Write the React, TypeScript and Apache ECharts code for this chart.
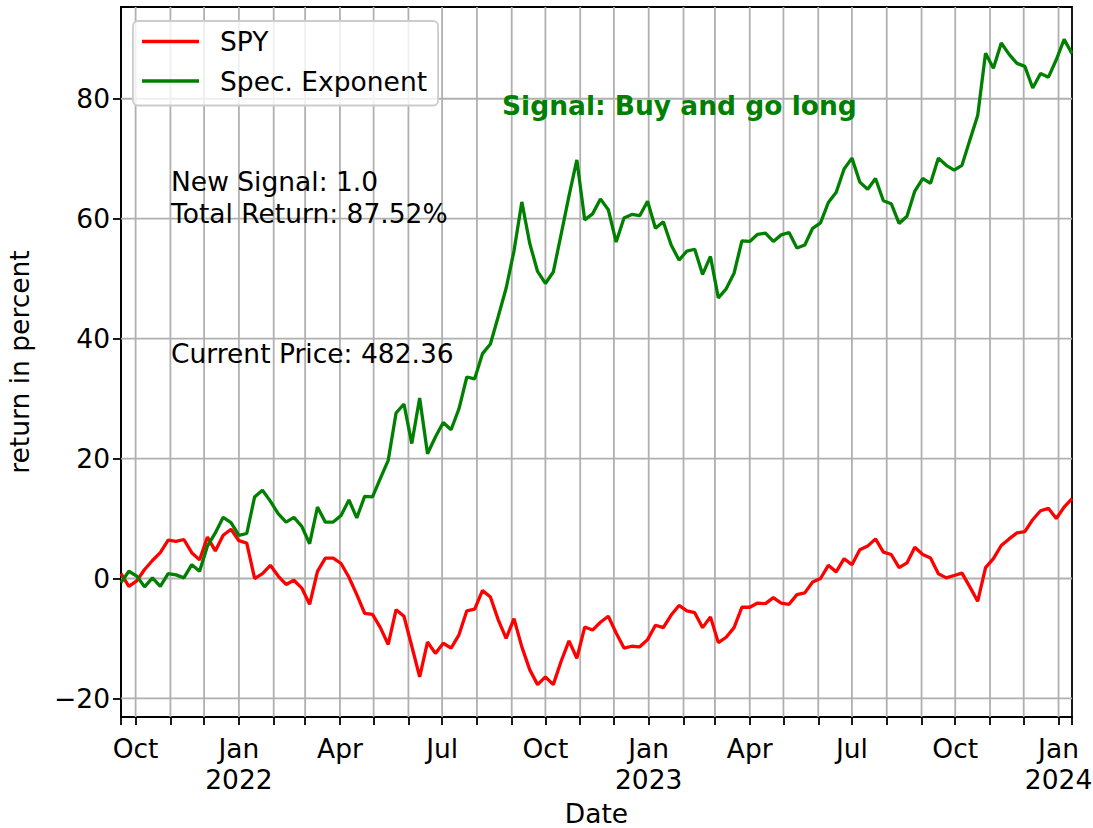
import React, { useEffect, useRef } from 'react';
import * as echarts from 'echarts';

// ---------- data ----------
const START_DATE = '2021-09-18'; // weekly samples
const spy = [
  0.8, -1.3, -0.4, 1.5, 3.0, 4.3, 6.4, 6.2, 6.5, 4.3,
  3.1, 6.9, 4.6, 7.2, 8.2, 6.3, 5.9, 0.0, 0.8, 2.2,
  0.4, -1.0, -0.3, -1.6, -4.3, 1.2, 3.4, 3.4, 2.5, 0.2,
  -2.7, -5.8, -6.0, -8.2, -11.0, -5.2, -6.3, -11.3, -16.4, -10.6,
  -12.5, -10.8, -11.6, -9.4, -5.4, -5.1, -2.0, -3.1, -6.9, -10.0,
  -6.7, -11.4, -15.2, -17.7, -16.4, -17.7, -13.8, -10.4, -13.3, -8.1,
  -8.6, -7.3, -6.3, -9.1, -11.6, -11.3, -11.4, -10.2, -7.8, -8.2,
  -6.1, -4.5, -5.4, -5.7, -8.2, -6.4, -10.7, -9.8, -8.2, -4.8,
  -4.8, -4.1, -4.2, -3.2, -4.1, -4.3, -2.7, -2.4, -0.6, 0.0,
  2.2, 1.1, 3.3, 2.3, 4.8, 5.4, 6.6, 4.4, 4.0, 1.8,
  2.6, 5.2, 4.0, 3.4, 0.8, 0.1, 0.5, 0.9, -1.4, -3.8,
  1.8, 3.3, 5.5, 6.6, 7.6, 7.8, 9.8, 11.3, 11.7, 10.0,
  11.9, 13.3,
];
const specExponent = [
  -0.7, 1.2, 0.4, -1.4, 0.1, -1.3, 0.8, 0.6, 0.1, 2.3,
  1.2, 5.4, 7.6, 10.2, 9.3, 7.2, 7.5, 13.6, 14.7, 12.9,
  10.8, 9.4, 10.2, 8.7, 5.8, 11.9, 9.4, 9.4, 10.5, 13.1,
  10.1, 13.7, 13.6, 16.7, 19.7, 27.6, 29.1, 22.5, 30.1, 20.8,
  23.6, 26.0, 24.8, 28.3, 33.6, 33.3, 37.5, 39.1, 43.7, 48.4,
  54.6, 62.8, 55.9, 51.2, 49.2, 51.1, 57.4, 63.8, 69.8, 59.8,
  60.8, 63.3, 61.5, 56.1, 60.1, 60.7, 60.5, 62.9, 58.4, 59.5,
  55.6, 53.1, 54.6, 54.9, 50.7, 53.7, 46.8, 48.3, 50.9, 56.3,
  56.2, 57.4, 57.6, 56.2, 57.3, 57.7, 55.1, 55.6, 58.4, 59.3,
  62.7, 64.4, 68.3, 70.1, 66.1, 64.9, 66.7, 63.0, 62.5, 59.2,
  60.4, 64.6, 66.7, 65.9, 70.1, 68.9, 68.1, 68.9, 73.1, 77.2,
  87.6, 85.1, 89.3, 87.4, 85.9, 85.4, 81.8, 84.2, 83.6, 86.5,
  89.9, 87.52,
];
const yTickValues = [-20, 0, 20, 40, 60, 80];
const monthTicks = [
  '2021-10-01', '2021-11-01', '2021-12-01',
  '2022-01-01', '2022-02-01', '2022-03-01', '2022-04-01', '2022-05-01', '2022-06-01',
  '2022-07-01', '2022-08-01', '2022-09-01', '2022-10-01', '2022-11-01', '2022-12-01',
  '2023-01-01', '2023-02-01', '2023-03-01', '2023-04-01', '2023-05-01', '2023-06-01',
  '2023-07-01', '2023-08-01', '2023-09-01', '2023-10-01', '2023-11-01', '2023-12-01',
  '2024-01-01',
];
const quarterTicks = [
  '2021-10-01', '2022-01-01', '2022-04-01', '2022-07-01', '2022-10-01',
  '2023-01-01', '2023-04-01', '2023-07-01', '2023-10-01', '2024-01-01',
];
const quarterLabels = [
  'Oct', 'Jan\n2022', 'Apr', 'Jul', 'Oct', 'Jan\n2023', 'Apr', 'Jul', 'Oct', 'Jan\n2024',
];
const seriesNames = ['SPY', 'Spec. Exponent'];
const infoText = 'New Signal: 1.0\nTotal Return: 87.52%';
const priceText = 'Current Price: 482.36';
const signalText = 'Signal: Buy and go long';

// ---------- helpers ----------
const DAY = 86400000;
const parseDate = (s: string) => {
  const [y, m, d] = s.split('-').map(Number);
  return Date.UTC(y, m - 1, d);
};
const weekDates = spy.map((_, i) => parseDate(START_DATE) + i * 7 * DAY);
const X_MIN = weekDates[0];
const X_MAX = weekDates[weekDates.length - 1];
const Y_MIN = -23.1;
const Y_MAX = 95.3;
const monthTs = monthTicks.map(parseDate);
const quarterTs = quarterTicks.map(parseDate);

const FONT = 'DejaVu Sans';
const FS = 26.5;
const GRID_COLOR = '#b0b0b0';

export default function App() {
  const ref = useRef<HTMLDivElement>(null);
  useEffect(() => {
    if (!ref.current) return;
    const chart = echarts.init(ref.current, undefined, { renderer: 'svg' });
    const labelFor = (v: number) => {
      const idx = quarterTs.findIndex((t) => Math.abs(t - v) < DAY);
      return idx >= 0 ? quarterLabels[idx] : '';
    };
    const option: any = {
      animation: false,
      textStyle: { fontFamily: FONT },
      grid: {
        left: 121, top: 7, width: 951, height: 710,
        containLabel: false, outerBoundsMode: 'none',
        show: true, borderColor: '#000', borderWidth: 1.8, backgroundColor: 'transparent',
      },
      xAxis: {
        type: 'value', min: X_MIN, max: X_MAX, scale: true,
        axisLine: { show: true, onZero: false, lineStyle: { color: '#000', width: 1.8 } },
        axisTick: {
          show: true, inside: false, length: 8, customValues: [X_MIN, ...monthTs, X_MAX],
          lineStyle: { color: '#000', width: 1.8 },
        },
        axisLabel: {
          customValues: quarterTs, formatter: (v: number) => labelFor(v),
          fontSize: FS, fontFamily: FONT, color: '#000', lineHeight: 31, margin: 16,
        },
        splitLine: { show: false },
        name: 'Date', nameLocation: 'middle', nameGap: 80,
        nameTextStyle: { fontSize: FS, fontFamily: FONT, color: '#000' },
      },
      yAxis: {
        type: 'value', min: Y_MIN, max: Y_MAX,
        axisLine: { show: true, onZero: false, lineStyle: { color: '#000', width: 1.8 } },
        axisTick: {
          show: true, inside: false, length: 8, customValues: yTickValues,
          lineStyle: { color: '#000', width: 1.8 },
        },
        axisLabel: {
          customValues: yTickValues,
          formatter: (v: number) => (v < 0 ? '\u2212' + Math.abs(v) : String(v)),
          fontSize: FS, fontFamily: FONT, color: '#000', margin: 11,
        },
        splitLine: { show: false },
        name: 'return in percent', nameLocation: 'middle', nameGap: 88,
        nameTextStyle: { fontSize: FS, fontFamily: FONT, color: '#000' },
      },
      legend: {
        data: seriesNames, orient: 'vertical', left: 133, top: 21,
        icon: 'rect', itemWidth: 57, itemHeight: 3.3, itemGap: 12.5,
        padding: [7, 11, 11, 9], selectedMode: false,
        backgroundColor: 'rgba(255,255,255,0.8)', borderColor: '#cccccc',
        borderWidth: 1.8, borderRadius: 5, z: 10,
        textStyle: { fontSize: FS, fontFamily: FONT, color: '#000', lineHeight: 27, padding: [0, 0, 0, 16] },
      },
      series: [
        {
          type: 'custom', name: 'vgrid', silent: true, z: 1,
          data: monthTs.map((t) => [t, 0]), encode: { x: 0, y: 1 },
          renderItem: (_p: any, api: any) => {
            const t = api.value(0);
            const a = api.coord([t, Y_MAX]);
            const b = api.coord([t, Y_MIN]);
            return {
              type: 'line', shape: { x1: a[0], y1: a[1], x2: b[0], y2: b[1] },
              style: { stroke: GRID_COLOR, lineWidth: 1.8 },
            };
          },
        },
        {
          type: 'custom', name: 'hgrid', silent: true, z: 1,
          data: yTickValues.map((v) => [X_MIN, v]), encode: { x: 0, y: 1 },
          renderItem: (_p: any, api: any) => {
            const v = api.value(1);
            const a = api.coord([X_MIN, v]);
            const b = api.coord([X_MAX, v]);
            return {
              type: 'line', shape: { x1: a[0], y1: a[1], x2: b[0], y2: b[1] },
              style: { stroke: GRID_COLOR, lineWidth: 1.8 },
            };
          },
        },
        {
          type: 'line', name: seriesNames[0], z: 3, showSymbol: false, symbol: 'none',
          data: weekDates.map((t, i) => [t, spy[i]]),
          lineStyle: { color: '#ff0000', width: 3.3 }, itemStyle: { color: '#ff0000' },
        },
        {
          type: 'line', name: seriesNames[1], z: 3, showSymbol: false, symbol: 'none',
          data: weekDates.map((t, i) => [t, specExponent[i]]),
          lineStyle: { color: '#008000', width: 3.3 }, itemStyle: { color: '#008000' },
        },
      ],
      graphic: [
        {
          type: 'text', x: 171, y: 165, z: 20,
          style: { text: infoText, fontSize: FS, fontFamily: FONT, fill: '#000', lineHeight: 32, verticalAlign: 'top' },
        },
        {
          type: 'text', x: 171, y: 337, z: 20,
          style: { text: priceText, fontSize: FS, fontFamily: FONT, fill: '#000', lineHeight: 32, verticalAlign: 'top' },
        },
        {
          type: 'text', x: 502, y: 89, z: 20,
          style: { text: signalText, fontSize: FS, fontFamily: FONT, fontWeight: 'bold', fill: '#008000', lineHeight: 32, verticalAlign: 'top' },
        },
      ],
    };
    chart.setOption(option);
    return () => chart.dispose();
  }, []);
  return (
    <div
      ref={ref}
      style={{ position: 'absolute', left: 0, top: 0, width: 1093, height: 828, background: '#fff' }}
    />
  );
}
